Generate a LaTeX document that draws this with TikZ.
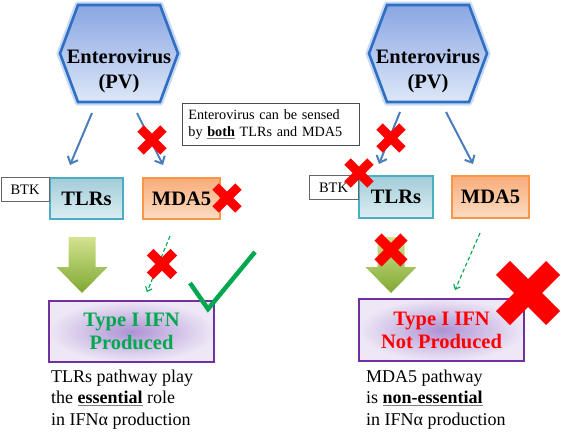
\documentclass[tikz,border=0pt]{standalone}
\usepackage{fontspec}
\setmainfont{Liberation Serif}
\usetikzlibrary{positioning,shapes,calc,arrows.meta}
\definecolor{hexblue}{HTML}{2E6FC4}
\definecolor{hexglowc}{HTML}{C9DAF3}
\definecolor{hextop}{HTML}{8AA6E2}
\definecolor{hexbot}{HTML}{DDE7F8}
\definecolor{arrblue}{HTML}{4A7EBB}
\definecolor{tlrline}{HTML}{4BACC6}
\definecolor{tlrtop}{HTML}{A2CCD8}
\definecolor{tlrbot}{HTML}{DCEEF3}
\definecolor{mdaline}{HTML}{F79646}
\definecolor{mdatop}{HTML}{F8AC7A}
\definecolor{mdabot}{HTML}{FCDCC2}
\definecolor{ifnline}{HTML}{7030A0}
\definecolor{ifnin}{HTML}{AE92D4}
\definecolor{ifnout}{HTML}{EEE7F6}
\definecolor{okgreen}{HTML}{00A84F}
\definecolor{fattop}{HTML}{D2E38F}
\definecolor{fatbot}{HTML}{7FA832}
\newcommand\ulgray[1]{{\color{gray}\underline{\color{black}#1}}}
\tikzset{pics/redx/.style={code={
  \draw[red,line width=#1*0.3pt] (-#1*0.38,-#1*0.38) -- (#1*0.38,#1*0.38)
    (-#1*0.38,#1*0.38) -- (#1*0.38,-#1*0.38);}}}
\begin{document}
\begin{tikzpicture}[x=1pt,y=-1pt]
  \useasboundingbox (0,0) rectangle (564,431);
  \tikzstyle{hexglow} = [draw=hexglowc,line width=7pt,line join=round]
  \tikzstyle{hexline} = [draw=hexblue,line width=2.6pt,top color=hextop,bottom color=hexbot]
  \tikzstyle{virtext} = [align=center,font=\bfseries\fontsize{20.5}{25}\selectfont,inner sep=0pt]
  \tikzstyle{tlrbox} = [draw=tlrline,line width=1.2pt,top color=tlrtop,bottom color=tlrbot,
    font=\bfseries\fontsize{20.5}{24}\selectfont,minimum width=73pt,minimum height=41pt]
  \tikzstyle{mdabox} = [draw=mdaline,line width=1.2pt,top color=mdatop,bottom color=mdabot,
    font=\bfseries\fontsize{20.5}{24}\selectfont,minimum width=77pt,minimum height=41pt]
  \tikzstyle{btkbox} = [draw=black!60,fill=white,line width=0.8pt,font=\fontsize{14.5}{16}\selectfont,
    minimum width=48pt,minimum height=24pt,anchor=north east]
  \tikzstyle{ifnbox} = [draw=ifnline,line width=1.6pt,inner color=ifnin,outer color=ifnout,
    align=center,font=\bfseries\fontsize{20.5}{23}\selectfont,minimum width=165pt,minimum height=61pt]
  \tikzstyle{notebox} = [draw=black!70,line width=0.8pt,fill=white,align=left,text width=165pt,
    inner xsep=6pt,minimum height=42pt,font=\fontsize{14.2}{17}\selectfont,anchor=north west]
  \tikzstyle{caption} = [align=left,inner sep=0pt,font=\fontsize{18}{21.5}\selectfont,anchor=base west]
  \tikzstyle{bluearr} = [draw=arrblue,line width=2pt,-{Straight Barb[length=6pt,width=11pt]}]
  \tikzstyle{dasharr} = [draw=okgreen,line width=1.1pt,dash pattern=on 4pt off 2.5pt,
    -{Straight Barb[length=4pt,width=7pt]}]
  \tikzstyle{fatarrow} = [top color=fattop,bottom color=fatbot,draw=none]
  \tikzstyle{checkline} = [draw=okgreen,line width=4.5pt,line join=miter]

  % virus hexagons
  \foreach \cx/\s in {119/L,428/R}{
    \draw[hexglow] (\cx-41,5) -- (\cx+41,5) -- (\cx+59,53.5) -- (\cx+41,102)
      -- (\cx-41,102) -- (\cx-59,53.5) -- cycle;
    \draw[hexline] (\cx-41,5) -- (\cx+41,5) -- (\cx+59,53.5) -- (\cx+41,102)
      -- (\cx-41,102) -- (\cx-59,53.5) -- cycle;
    \node[virtext] (vir\s) at (\cx,71) {Enterovirus\\(PV)};
  }

  \node[notebox] (note) at (182,103) {Enterovirus can be sensed\\by \ulgray{\textbf{both}} TLRs and MDA5};

  % sensors
  \node[tlrbox] (tlrL) at (86.5,198.5) {TLRs};
  \node[mdabox] (mdaL) at (181.5,198.5) {MDA5};
  \node[btkbox] (btkL) at (tlrL.north west) {BTK};
  \node[tlrbox,minimum width=74pt,minimum height=42pt] (tlrR) at (396,197) {TLRs};
  \node[mdabox,minimum height=42pt] (mdaR) at (490.5,197) {MDA5};
  \node[btkbox,minimum width=49pt] (btkR) at (tlrR.north west) {BTK};

  % interferon
  \node[ifnbox,text=okgreen] (ifnL) at (131.5,331.5) {Type I IFN\\Produced};
  \node[ifnbox,text=red,minimum height=62pt] (ifnR) at (441.5,330) {Type I IFN\\Not Produced};

  \node[caption] (capL) at (51,425) {TLRs pathway play\\the \ulgray{\textbf{essential}} role\\in IFNα production};
  \node[caption] (capR) at (366,425) {MDA5 pathway\\is \ulgray{\textbf{non-essential}}\\in IFNα production};

  % arrows
  \coordinate (aL1) at (92,113);  \coordinate (aL2) at (70,165);
  \coordinate (bL1) at (137,113); \coordinate (bL2) at (163,165);
  \coordinate (aR1) at (400,112); \coordinate (aR2) at (379,164);
  \coordinate (bR1) at (446,112); \coordinate (bR2) at (473,164);
  \draw[bluearr] (aL1) -- (aL2);
  \draw[bluearr] (bL1) -- (bL2);
  \draw[bluearr] (aR1) -- (aR2);
  \draw[bluearr] (bR1) -- (bR2);

  \coordinate (dL1) at (170,236); \coordinate (dL2) at (147,292);
  \coordinate (dR1) at (480,233); \coordinate (dR2) at (455,290);
  \draw[dasharr] (dL1) -- (dL2);
  \draw[dasharr] (dR1) -- (dR2);

  \foreach \gx in {82,391}{
    \draw[fatarrow] (\gx-13.5,237) -- (\gx+13.5,237) -- (\gx+13.5,267) -- (\gx+25.5,267)
      -- (\gx,293) -- (\gx-25.5,267) -- (\gx-13.5,267) -- cycle;
  }

  \draw[checkline] (190,283) -- (208,309) -- (255,252);

  % crosses
  \pic at (152,140) {redx=30};
  \pic at (227,198) {redx=30};
  \pic at (162,264) {redx=31};
  \pic at (391,138) {redx=30};
  \pic at (359,173) {redx=30};
  \pic at (391,250) {redx=34};
  \pic at (528,293) {redx=66};
\end{tikzpicture}
\end{document}
